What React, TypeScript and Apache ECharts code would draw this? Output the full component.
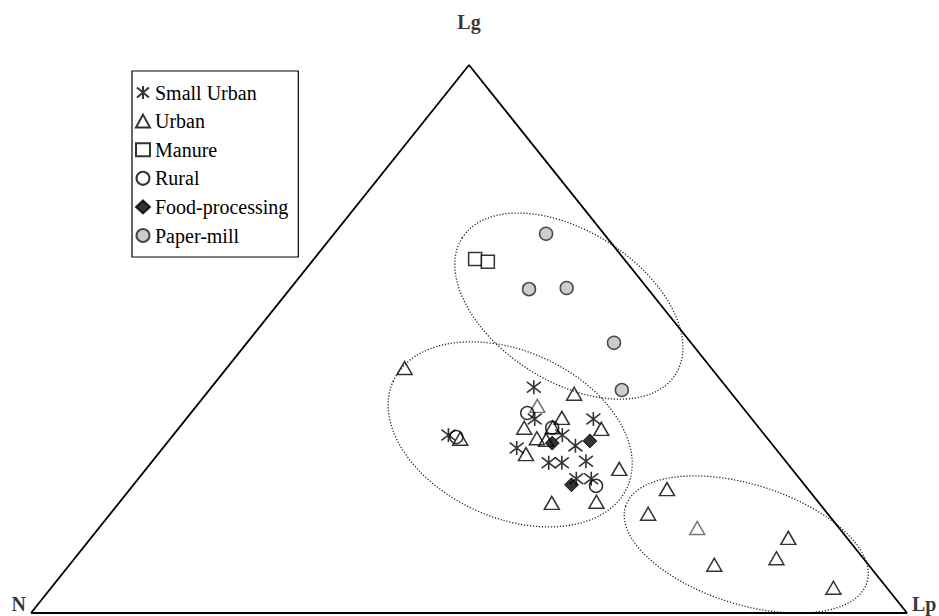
import React, { useEffect, useRef } from "react";
import * as echarts from "echarts";

// Ternary compositions [N, Lg, Lp] in %
const smallUrban: number[][] = [
  [22.0, 41.2, 36.8], [24.8, 35.4, 39.8], [36.1, 32.5, 31.4], [29.5, 30.1, 40.4],
  [18.1, 35.4, 46.5], [23.1, 32.5, 44.4], [22.6, 30.5, 46.9], [27.2, 27.4, 45.4],
  [25.7, 27.4, 46.9], [22.8, 27.7, 49.5], [25.5, 24.5, 50.0], [23.8, 24.5, 51.7],
];
const urban: number[][] = [
  [35.0, 44.7, 20.3], [18.0, 40.0, 42.0], [23.3, 37.8, 38.9], [26.8, 33.8, 39.4],
  [21.6, 35.6, 42.8], [23.5, 33.9, 42.6], [26.3, 31.9, 41.8], [25.4, 31.6, 43.0],
  [18.1, 33.6, 48.3], [35.1, 31.8, 33.1], [29.0, 29.0, 42.0], [19.7, 26.3, 54.0],
  [30.5, 20.1, 49.4], [25.3, 20.3, 54.4], [16.1, 22.6, 61.3], [20.5, 18.1, 61.4],
  [16.2, 15.5, 68.3], [17.6, 8.8, 73.6], [6.7, 13.7, 79.6], [9.9, 10.0, 80.1],
  [6.1, 4.6, 89.3],
];
const urbanGreyIdx = [2, 16];
const manure: number[][] = [[17.0, 64.6, 18.4], [15.8, 64.1, 20.1]];
const rural: number[][] = [
  [25.1, 36.5, 38.4], [35.4, 32.1, 32.5], [23.6, 33.8, 42.6], [23.9, 23.2, 52.9],
];
const foodProcessing: number[][] = [[25.0, 31.0, 44.0], [20.5, 31.4, 48.1], [26.6, 23.4, 50.0]];
const paperMill: number[][] = [
  [6.6, 69.2, 24.2], [13.6, 59.1, 27.3], [9.2, 59.3, 31.5], [8.8, 49.3, 41.9], [12.2, 40.7, 47.1],
];
// Group ellipses: centre [N, Lg, Lp], semi-axes (in % of base), tilt (deg)
const ellipseCentres: number[][] = [[10.6, 56.0, 33.4], [29.0, 32.6, 38.4], [12.1, 12.5, 75.4]];
const ellipseAxes: number[][] = [[14.45, 8.56], [14.67, 9.51], [14.44, 6.83]];
const ellipseTilt: number[] = [32.7, 24.3, 17.5];

const vertices: { name: string; comp: number[] }[] = [
  { name: "N", comp: [100, 0, 0] },
  { name: "Lg", comp: [0, 100, 0] },
  { name: "Lp", comp: [0, 0, 100] },
];
const legendNames = ["Small Urban", "Urban", "Manure", "Rural", "Food-processing", "Paper-mill"];

const toXY = (c: number[]) => {
  const s = c[0] + c[1] + c[2];
  const lg = (c[1] / s) * 100;
  const lp = (c[2] / s) * 100;
  return [lp + lg / 2, lg];
};

const FONT = "'Liberation Serif', 'Times New Roman', serif";
const ASTERISK = "path://M6,0L6,13M0,1.5L12,11.5M12,1.5L0,11.5";

export default function App() {
  const ref = useRef<HTMLDivElement>(null);
  useEffect(() => {
    if (!ref.current) return;
    const chart = echarts.init(ref.current, null, { renderer: "svg" });
    const hollow = { color: "transparent", borderColor: "#000", borderWidth: 1.5 };
    const option: any = {
      animation: false,
      backgroundColor: "#fff",
      textStyle: { fontFamily: FONT },
      grid: { left: 31, top: 65, width: 876, height: 548 },
      xAxis: { type: "value", min: 0, max: 100, show: false },
      yAxis: { type: "value", min: 0, max: 100, show: false },
      legend: {
        data: legendNames,
        orient: "vertical",
        left: 132,
        top: 71,
        padding: [11, 10, 11, 3],
        itemGap: 7.6,
        itemWidth: 14,
        itemHeight: 13,
        borderColor: "#000",
        borderWidth: 1.2,
        textStyle: { fontFamily: FONT, fontSize: 20, lineHeight: 21, color: "#000" },
      },
      series: [
        {
          type: "custom",
          name: "ellipses",
          coordinateSystem: "cartesian2d",
          silent: true,
          z: 1,
          encode: { x: 0, y: 1 },
          data: ellipseCentres.map((c, i) => [...toXY(c), ellipseAxes[i][0], ellipseAxes[i][1], ellipseTilt[i]]),
          renderItem: (params: any, api: any) => {
            const c = api.coord([api.value(0), api.value(1)]);
            const unit = api.size([1, 0])[0];
            return {
              type: "ellipse",
              x: c[0],
              y: c[1],
              rotation: (-api.value(4) * Math.PI) / 180,
              shape: { cx: 0, cy: 0, rx: api.value(2) * unit, ry: api.value(3) * unit },
              style: { fill: "none", stroke: "#222", lineWidth: 1.3, lineDash: [1.2, 1.8] },
            };
          },
        },
        {
          type: "line",
          name: "frame",
          silent: true,
          symbol: "none",
          z: 2,
          data: [...vertices.map((v) => toXY(v.comp)), toXY(vertices[0].comp)],
          lineStyle: { color: "#000", width: 1.8 },
        },
        {
          type: "scatter",
          name: "vertexLabels",
          silent: true,
          symbolSize: 0,
          data: vertices.map((v, i) => ({
            value: toXY(v.comp),
            label: {
              show: true,
              formatter: v.name,
              position: i === 0 ? "left" : i === 1 ? "top" : "right",
              distance: i === 1 ? 33 : 5,
              offset: i === 1 ? [0, 0] : [0, -9],
              fontFamily: FONT,
              fontWeight: "bold",
              fontSize: 20,
              color: "#000",
            },
          })),
        },
        {
          type: "scatter",
          name: "Urban",
          symbol: "triangle",
          symbolSize: [15, 13],
          z: 3,
          itemStyle: hollow,
          data: urban.map((c, i) =>
            urbanGreyIdx.includes(i)
              ? { value: toXY(c), itemStyle: { borderColor: "#555" } }
              : toXY(c)
          ),
        },
        {
          type: "scatter",
          name: "Small Urban",
          symbol: ASTERISK,
          symbolSize: 14,
          z: 4,
          itemStyle: { color: "transparent", borderColor: "#000", borderWidth: 1.6 },
          data: smallUrban.map(toXY),
        },
        {
          type: "scatter",
          name: "Rural",
          symbol: "circle",
          symbolSize: 13,
          z: 4,
          itemStyle: hollow,
          data: rural.map(toXY),
        },
        {
          type: "scatter",
          name: "Food-processing",
          symbol: "diamond",
          symbolSize: 14,
          z: 5,
          itemStyle: { color: "#000", borderColor: "#000", borderWidth: 1 },
          data: foodProcessing.map(toXY),
        },
        {
          type: "scatter",
          name: "Paper-mill",
          symbol: "circle",
          symbolSize: 13,
          z: 5,
          itemStyle: { color: "#c0c0c0", borderColor: "#222", borderWidth: 1.5 },
          data: paperMill.map(toXY),
        },
        {
          type: "scatter",
          name: "Manure",
          symbol: "rect",
          symbolSize: 13,
          z: 5,
          itemStyle: { color: "#fff", borderColor: "#000", borderWidth: 1.5 },
          data: manure.map(toXY),
        },
      ],
    };
    chart.setOption(option);
    return () => chart.dispose();
  }, []);
  return (
    <div
      ref={ref}
      style={{ position: "absolute", left: 0, top: 0, width: 939, height: 616, background: "#fff" }}
    />
  );
}
